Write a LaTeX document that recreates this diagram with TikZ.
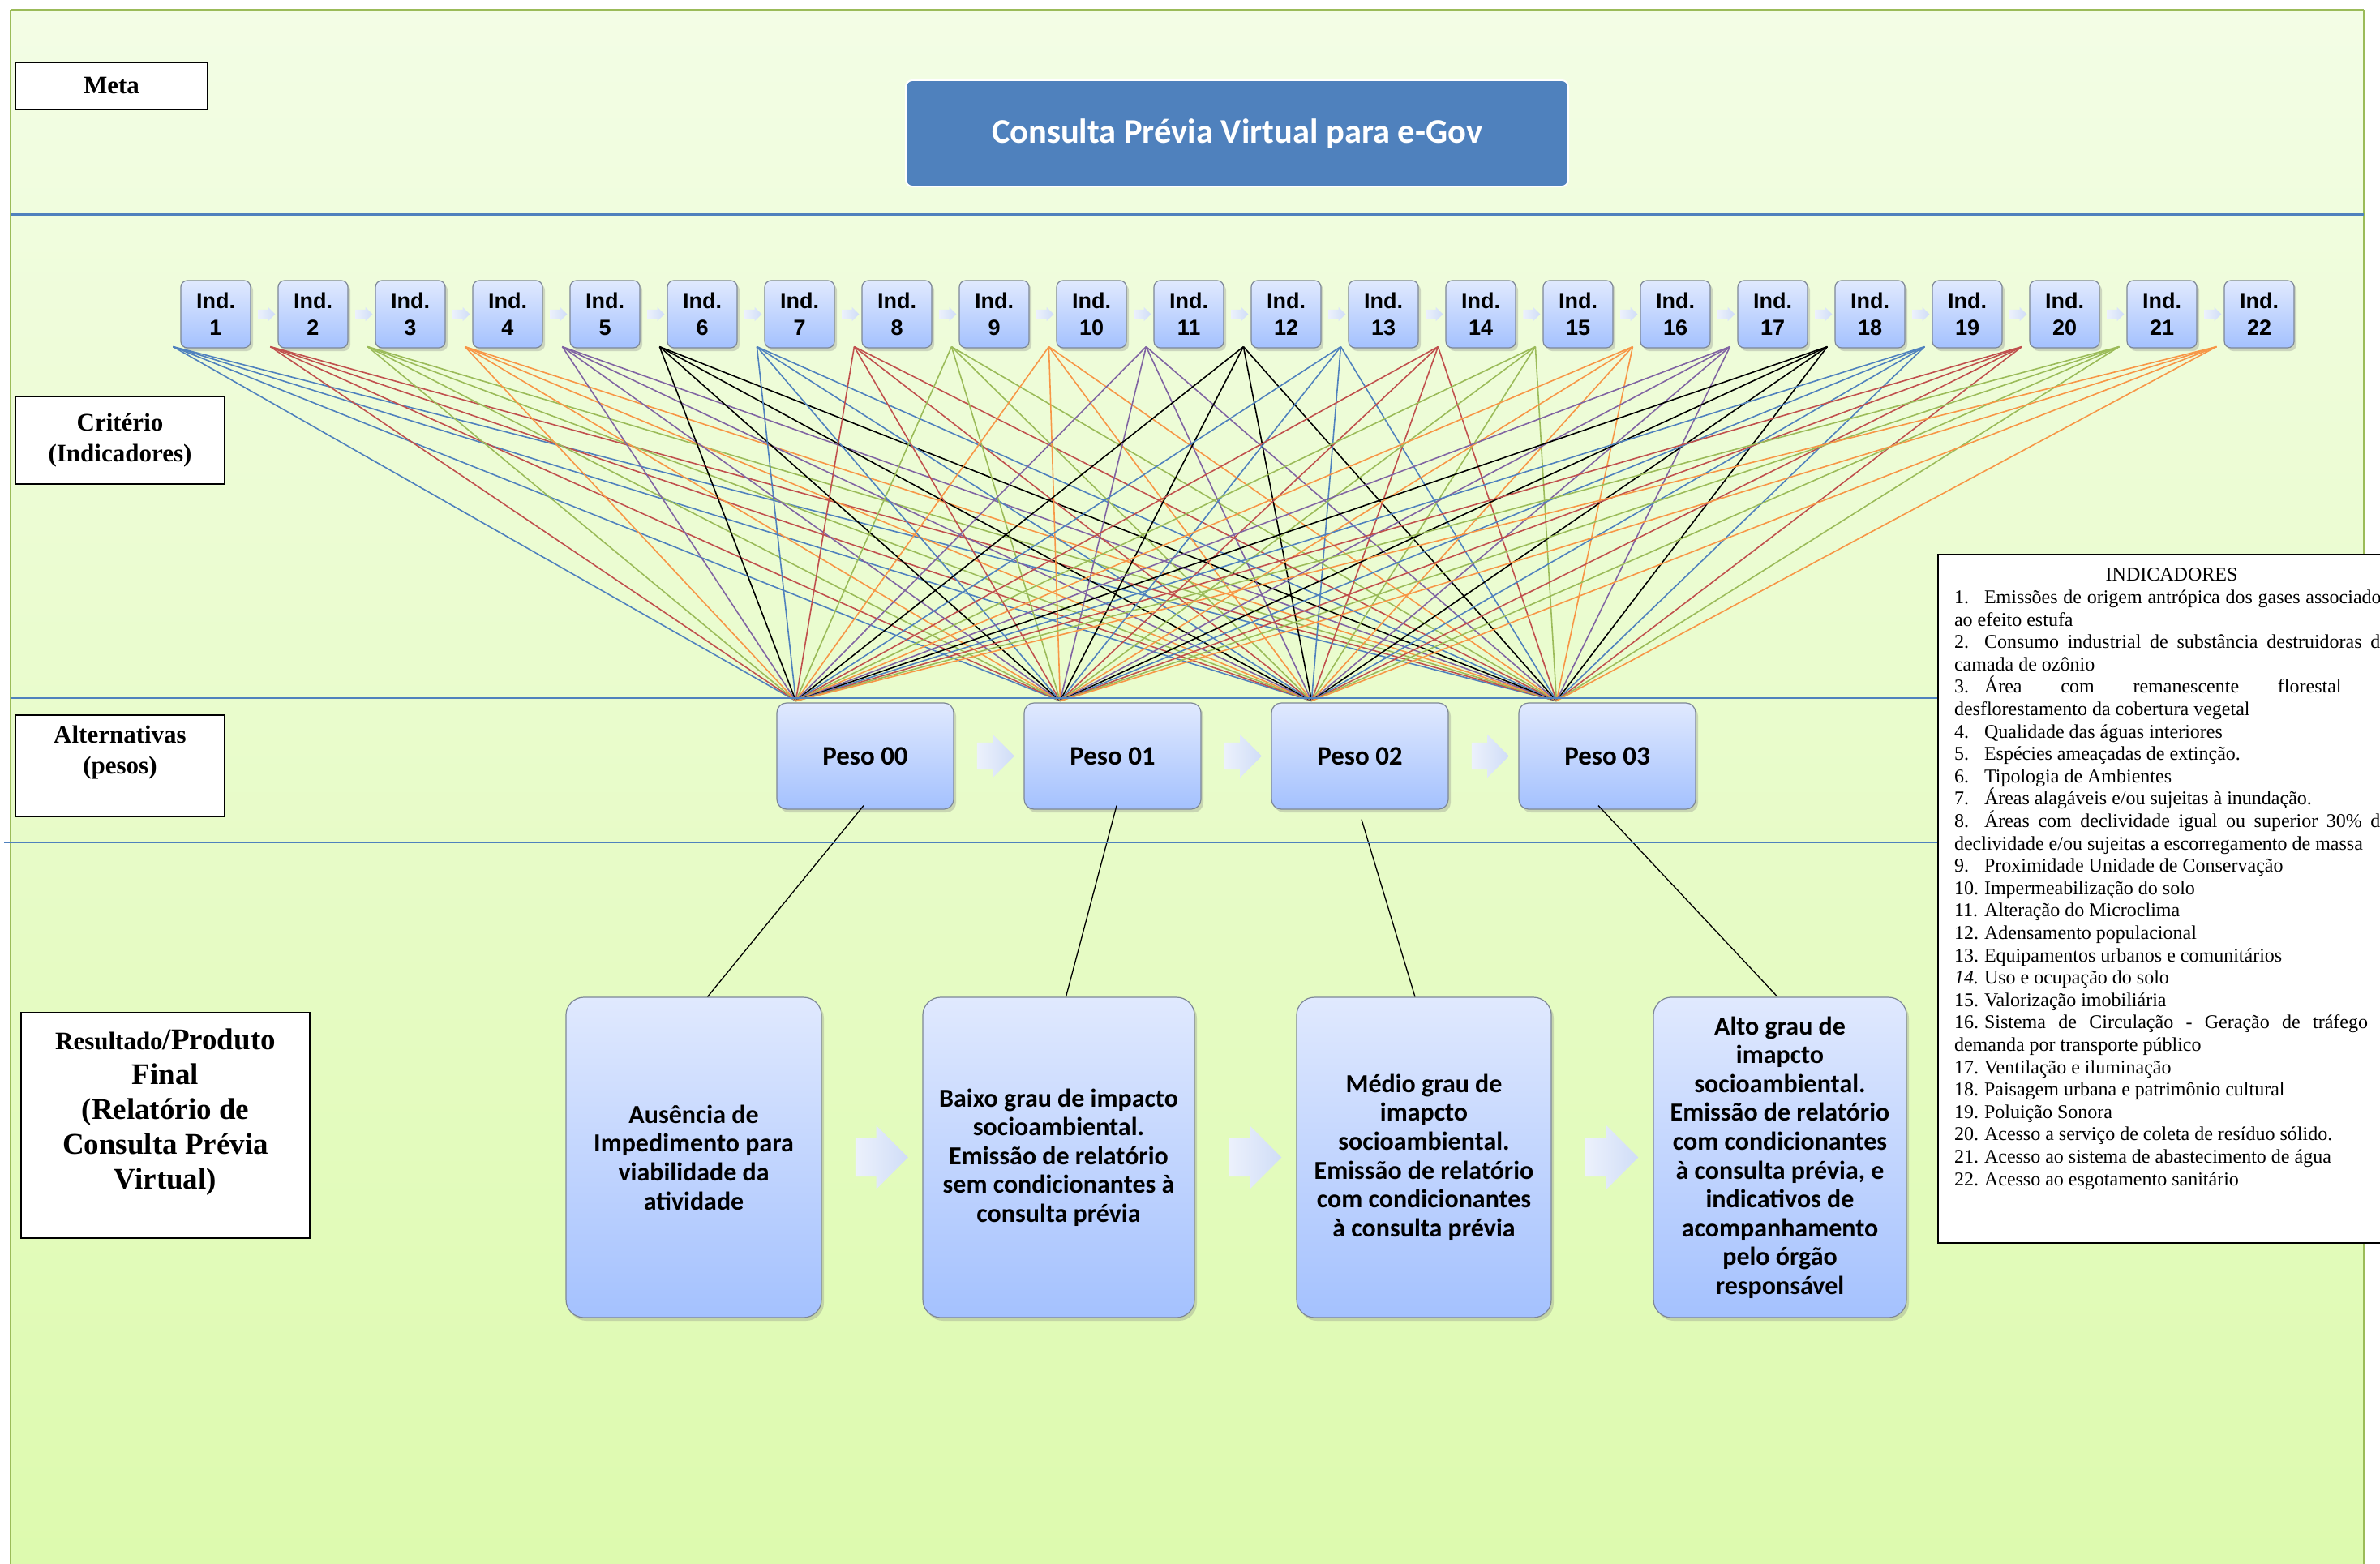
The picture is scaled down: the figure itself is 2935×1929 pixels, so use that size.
\documentclass[tikz,border=0pt]{standalone}
\usepackage{fontspec}
\setmainfont{Liberation Serif}
\newfontfamily\calibri{Carlito}
\newfontfamily\arialfont{Liberation Sans}
\usepackage{tikz}
\usetikzlibrary{arrows.meta,shapes.arrows,shadows,calc}
\usepackage{xcolor}

\definecolor{bgtop}{RGB}{243,253,229}
\definecolor{bgbot}{RGB}{221,250,174}
\definecolor{framegreen}{RGB}{155,187,89}
\definecolor{bandblue}{RGB}{79,129,189}
\definecolor{boxtop}{RGB}{224,233,254}
\definecolor{boxbot}{RGB}{164,193,254}
\definecolor{boxline}{RGB}{125,135,150}
\definecolor{arrowA}{RGB}{236,241,252}
\definecolor{arrowB}{RGB}{208,221,247}
% one colour per indicator, repeating every six
\definecolor{fan0}{RGB}{79,129,189}
\definecolor{fan1}{RGB}{192,80,77}
\definecolor{fan2}{RGB}{155,187,89}
\definecolor{fan3}{RGB}{247,150,70}
\definecolor{fan4}{RGB}{128,100,162}
\definecolor{fan5}{RGB}{0,0,0}

\newcommand{\indline}[2]{\makebox[37pt][l]{#1}#2\par}
\newcommand{\listsetup}{\parindent=0pt \hyphenpenalty=10000 \tolerance=10000 \fontsize{24}{27.6}\selectfont}

\begin{document}
\begin{tikzpicture}[x=1pt, y=-1pt, node distance=120pt,
  labelbox/.style={draw, line width=2pt, fill=white, align=center, font=\bfseries\fontsize{31}{38}\selectfont},
  softbox/.style={draw=boxline, line width=1.2pt, top color=boxtop, bottom color=boxbot,
    drop shadow={shadow xshift=3pt, shadow yshift=-4pt, opacity=.3}},
  indbox/.style={softbox, rounded corners=8pt, minimum width=86pt, minimum height=83pt, inner sep=0pt,
    align=center, font=\arialfont\bfseries\fontsize{27}{33}\selectfont},
  pesobox/.style={softbox, rounded corners=12pt, minimum width=218pt, minimum height=131pt,
    font=\calibri\bfseries\fontsize{33}{40}\selectfont},
  resbox/.style={softbox, rounded corners=22pt, minimum height=395pt, inner sep=4pt, align=center,
    font=\calibri\bfseries\fontsize{32}{35.6}\selectfont},
  blockarrow/.style={single arrow, single arrow head extend=#1, inner xsep=0pt, left color=arrowA, right color=arrowB}]
\useasboundingbox (0,0) rectangle (2935,1929);
\clip (0,0) rectangle (2935,1929);

% background panel
\fill[top color=bgtop, bottom color=bgbot] (13,13) rectangle (2915,1940);
\draw[framegreen, line width=1.5pt] (13,1940) -- (13,13) -- (2915,13) -- (2915,1940);
\draw[framegreen, line width=3pt] (13,13) -- (2915,13);

% row labels
\node[labelbox, minimum width=237pt, minimum height=58pt] (meta) at (137.5,106) {Meta};
\node[labelbox, minimum width=258pt, minimum height=108pt] (crit) at (148,543) {Critério\\(Indicadores)};
\node[labelbox, minimum width=258pt, minimum height=125pt] (alt) at (148,944.5) {Alternativas\\(pesos)\\[-10pt]\strut};
\node[labelbox, minimum width=356pt, minimum height=278pt, font=\bfseries\fontsize{37}{43}\selectfont] (res) at (204,1388)
  {{\fontsize{31}{43}\selectfont Resultado}/Produto\\Final\\(Relatório de\\Consulta Prévia\\Virtual)\\[-15pt]\strut};

\node[fill=bandblue, draw=white, line width=2pt, rounded corners=8pt, minimum width=817pt, minimum height=131pt,
  text=white, font=\calibri\bfseries\fontsize{42.5}{50}\selectfont] (goal) at (1525.5,164.5) {Consulta Prévia Virtual para e-Gov};

% indicators
\node[indbox] (i1) at (266,387.5) {Ind.\\1};
\foreach \k [remember=\k as \prev (initially 1)] in {2,...,22}{
  \node[indbox, right of=i\prev] (i\k) {Ind.\\\k};
  \node[blockarrow=3pt, node distance=60pt, right of=i\prev, minimum height=21pt, minimum width=17pt, inner ysep=5.5pt] (ia\k) {};
}

% weights
\node[pesobox] (p0) at (1067,932.5) {Peso 00};
\node[pesobox, node distance=305pt, right of=p0] (p1) {Peso 01};
\node[pesobox, node distance=305pt, right of=p1] (p2) {Peso 02};
\node[pesobox, node distance=305pt, right of=p2] (p3) {Peso 03};
\foreach \a in {0,1,2}
  \node[blockarrow=10pt, node distance=152.5pt, right of=p\a, minimum height=46pt, minimum width=53pt, inner ysep=16.5pt] (pa\a) {};

% results
\node[resbox, minimum width=315pt] (r0) at (855.5,1427.5) {Ausência de\\Impedimento para\\viabilidade da\\atividade};
\node[resbox, minimum width=335pt] (r1) at (1305.5,1427.5) {Baixo grau de impacto\\socioambiental.\\Emissão de relatório\\sem condicionantes à\\consulta prévia};
\node[resbox, minimum width=314pt] (r2) at (1756,1427.5) {Médio grau de\\imapcto\\socioambiental.\\Emissão de relatório\\com condicionantes\\à consulta prévia};
\node[resbox, minimum width=312pt] (r3) at (2195,1427.5) {Alto grau de\\imapcto\\socioambiental.\\Emissão de relatório\\com condicionantes\\à consulta prévia, e\\indicativos de\\acompanhamento\\pelo órgão\\responsável};
\foreach \a/\b in {r0/r1, r1/r2, r2/r3}
  \node[blockarrow=15.5pt, minimum height=65pt, minimum width=78pt, inner ysep=23.5pt] at ($(\a.east)!0.5!(\b.west)$) {};

% every indicator feeds every weight
\foreach \k in {1,...,22}{
  \pgfmathtruncatemacro{\m}{mod(\k-1,6)}
  \foreach \j/\dx in {0/24,1/45,2/50,3/47}
    \draw[fan\m, line width=1.6pt] ([xshift=-9pt, yshift=2pt]i\k.south west) -- ([xshift=\dx pt, yshift=2pt]p\j.north west);
}

\foreach \j/\sx/\sy/\ex in {0/-2/5/17, 1/5/5/9, 2/2/-12/-11, 3/-11/5/-3}
  \draw[line width=1.3pt] ([xshift=\sx pt, yshift=\sy pt]p\j.south) -- ([xshift=\ex pt]r\j.north);

% band separators
\draw[bandblue, line width=3pt] (13,264) -- (2915,264);
\draw[bandblue, line width=2pt] (13,861) -- (2915,861);
\draw[bandblue, line width=2pt] (5,1039) -- (2915,1039);

% indicator list
\node[draw, line width=2pt, fill=white, anchor=north west, text width=536pt, align=justify, inner xsep=20pt, inner ysep=17pt] (indlist) at (2389,683) {\listsetup
{\centering INDICADORES\par}
\indline{1.}{Emissões de origem antrópica dos gases associados\linebreak ao efeito estufa}
\indline{2.}{Consumo industrial de substância destruidoras da\linebreak camada de ozônio}
\indline{3.}{Área com remanescente florestal e\linebreak desflorestamento da cobertura vegetal}
\indline{4.}{Qualidade das águas interiores}
\indline{5.}{Espécies ameaçadas de extinção.}
\indline{6.}{Tipologia de Ambientes}
\indline{7.}{Áreas alagáveis e/ou sujeitas à inundação.}
\indline{8.}{Áreas com declividade igual ou superior 30\% de\linebreak declividade e/ou sujeitas a escorregamento de massa}
\indline{9.}{Proximidade Unidade de Conservação}
\indline{10.}{Impermeabilização do solo}
\indline{11.}{Alteração do Microclima}
\indline{12.}{Adensamento populacional}
\indline{13.}{Equipamentos urbanos e comunitários}
\indline{\textit{14.}}{Uso e ocupação do solo}
\indline{15.}{Valorização imobiliária}
\indline{16.}{Sistema de Circulação - Geração de tráfego e\linebreak demanda por transporte público}
\indline{17.}{Ventilação e iluminação}
\indline{18.}{Paisagem urbana e patrimônio cultural}
\indline{19.}{Poluição Sonora}
\indline{20.}{Acesso a serviço de coleta de resíduo sólido.}
\indline{21.}{Acesso ao sistema de abastecimento de água}
\indline{22.}{Acesso ao esgotamento sanitário}
\rule{0pt}{48pt}\par
};
\end{tikzpicture}
\end{document}
